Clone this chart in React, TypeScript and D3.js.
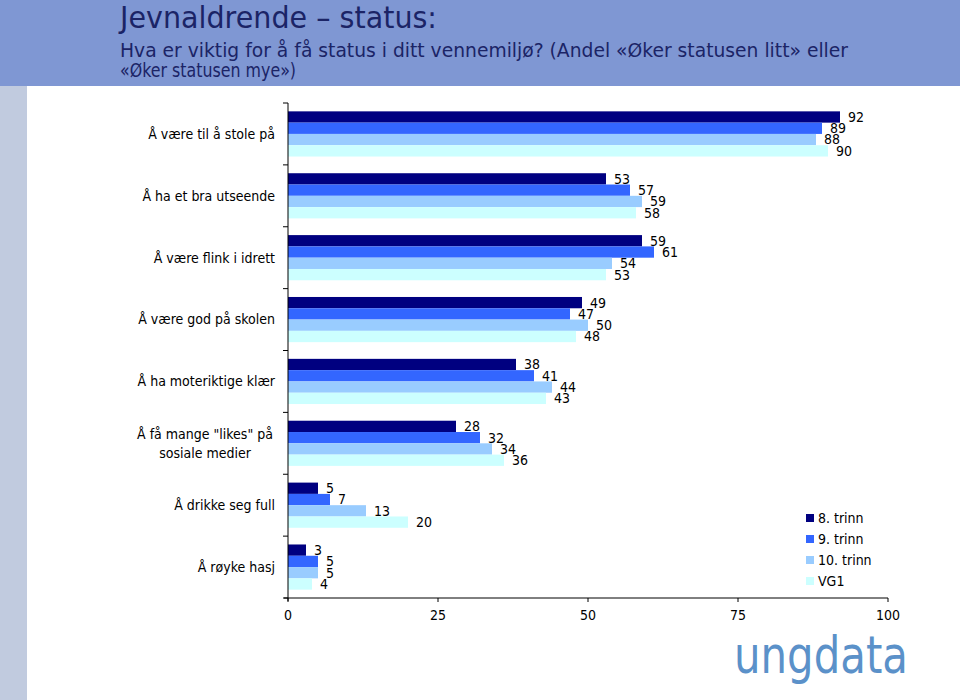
import React from "react";
import * as d3 from "d3";

const categories: string[][] = [
  ["Å være til å stole på"],
  ["Å ha et bra utseende"],
  ["Å være flink i idrett"],
  ["Å være god på skolen"],
  ["Å ha moteriktige klær"],
  ["Å få mange \"likes\" på", "sosiale medier"],
  ["Å drikke seg full"],
  ["Å røyke hasj"],
];
const seriesNames = ["8. trinn", "9. trinn", "10. trinn", "VG1"];
const trinn8 = [92, 53, 59, 49, 38, 28, 5, 3];
const trinn9 = [89, 57, 61, 47, 41, 32, 7, 5];
const trinn10 = [88, 59, 54, 50, 44, 34, 13, 5];
const vg1 = [90, 58, 53, 48, 43, 36, 20, 4];
const xTicks = [0, 25, 50, 75, 100];
const colors = ["#000080", "#3366ff", "#99ccff", "#ccffff"];

const series = [trinn8, trinn9, trinn10, vg1];

export default function App() {
  const W = 960, H = 700;
  const x = d3.scaleLinear().domain([0, 100]).range([288, 888]);
  const y = d3
    .scaleBand<number>()
    .domain(d3.range(categories.length))
    .range([103, 598])
    .paddingInner(0.27)
    .paddingOuter(0.135);
  const inner = d3
    .scaleBand<number>()
    .domain(d3.range(series.length))
    .range([0, y.bandwidth()]);
  const step = y.step();
  const labelFont = "Tahoma, 'DejaVu Sans Condensed', 'DejaVu Sans', sans-serif";
  const headFont = "'DejaVu Sans', Verdana, sans-serif";

  return (
    <svg width={W} height={H} style={{ position: "absolute", left: 0, top: 0, display: "block" }}>
      <rect x={0} y={0} width={W} height={H} fill="#ffffff" />
      <rect x={0} y={0} width={W} height={86} fill="#7f97d3" />
      <rect x={0} y={86} width={27} height={H - 86} fill="#c1cbdf" />
      <text x={120} y={28} fontFamily={headFont} fontSize={30} fill="#1b2466" textLength={317} lengthAdjust="spacingAndGlyphs">
        Jevnaldrende – status:
      </text>
      <text x={120} y={57} fontFamily={headFont} fontSize={19} fill="#1b2466" textLength={728} lengthAdjust="spacingAndGlyphs">
        Hva er viktig for å få status i ditt vennemiljø? (Andel «Øker statusen litt» eller
      </text>
      <text x={120} y={77} fontFamily={headFont} fontSize={19} fill="#1b2466" textLength={176} lengthAdjust="spacingAndGlyphs">
        «Øker statusen mye»)
      </text>

      {/* bars */}
      {categories.map((_, ci) =>
        series.map((s, si) => {
          const by = (y(ci) as number) + (inner(si) as number);
          return (
            <g key={`b${ci}-${si}`}>
              <rect x={x(0)} y={by} width={x(s[ci]) - x(0)} height={inner.bandwidth()} fill={colors[si]} />
              <text
                x={x(s[ci]) + 8}
                y={by + inner.bandwidth() / 2}
                dy="0.35em"
                fontFamily={labelFont}
                fontSize={14}
                fill="#000"
              >
                {s[ci]}
              </text>
            </g>
          );
        })
      )}

      {/* category axis */}
      <line x1={x(0)} x2={x(0)} y1={103} y2={601} stroke="#000" strokeWidth={1} />
      {d3.range(categories.length + 1).map((i) => (
        <line key={`ct${i}`} x1={x(0) - 5} x2={x(0)} y1={103 + i * step} y2={103 + i * step} stroke="#000" />
      ))}
      {categories.map((lines, ci) => {
        const cy = (y(ci) as number) + y.bandwidth() / 2;
        const lh = 19;
        const y0 = cy - ((lines.length - 1) * lh) / 2;
        const multi = lines.length > 1;
        const ax = multi ? 205 : 275;
        return (
          <text key={`cl${ci}`} x={ax} textAnchor={multi ? "middle" : "end"} fontFamily={labelFont} fontSize={14} fill="#000">
            {lines.map((l, li) => (
              <tspan key={li} x={ax} y={y0 + li * lh} dy="0.35em">
                {l}
              </tspan>
            ))}
          </text>
        );
      })}

      {/* value axis */}
      <line x1={x(0) - 4} x2={x(100)} y1={598} y2={598} stroke="#000" />
      {xTicks.map((t) => (
        <g key={`xt${t}`}>
          <line x1={x(t)} x2={x(t)} y1={598} y2={602} stroke="#000" />
          <text x={x(t)} y={615} dy="0.35em" textAnchor="middle" fontFamily={labelFont} fontSize={14} fill="#000">
            {t}
          </text>
        </g>
      ))}

      {/* legend */}
      {seriesNames.map((n, i) => (
        <g key={`lg${i}`} transform={`translate(806, ${518 + i * 21})`}>
          <rect x={0} y={-4} width={8} height={8} fill={colors[i]} />
          <text x={12} y={0} dy="0.35em" fontFamily={labelFont} fontSize={14} fill="#000">
            {n}
          </text>
        </g>
      ))}

      {/* logo */}
      <text
        x={734}
        y={673}
        fontFamily="'DejaVu Sans', sans-serif"
        fontWeight={400}
        fontSize={52}
        fill="#5b91c9"
        textLength={174}
        lengthAdjust="spacingAndGlyphs"
      >
        ungdata
      </text>
    </svg>
  );
}
